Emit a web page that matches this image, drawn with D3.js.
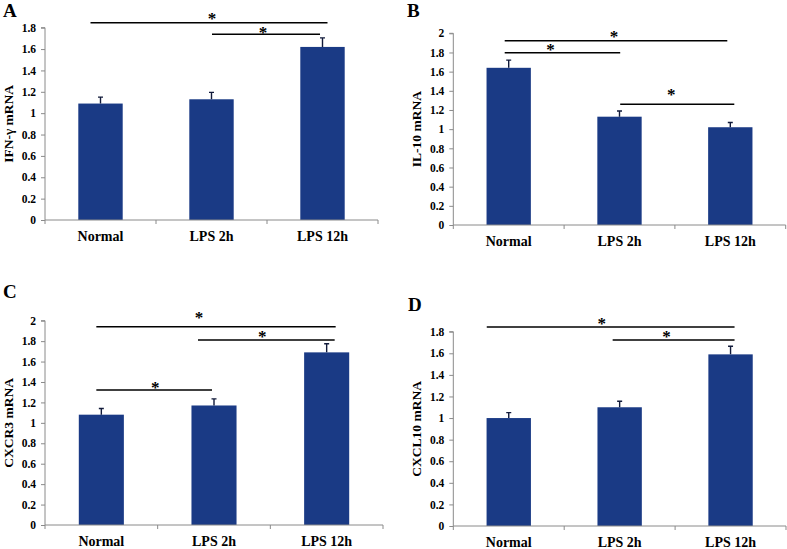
<!DOCTYPE html>
<html>
<head>
<meta charset="utf-8">
<script src="https://cdn.jsdelivr.net/npm/d3@7"></script>
<style>
  html, body { margin: 0; padding: 0; background: #fff; }
  svg { display: block; }
</style>
</head>
<body>
<svg id="chart" width="787" height="549"></svg>
<script>
// ---------------- DATA ----------------
const categories = ["Normal", "LPS 2h", "LPS 12h"];

const panelLetters = ["A", "B", "C", "D"];
const yLabels = ["IFN-\u03B3 mRNA", "IL-10 mRNA", "CXCR3 mRNA", "CXCL10 mRNA"];
const yMaxes = [1.8, 2, 2, 1.8];
const yTickStep = 0.2;

const ifnValues    = [1.09, 1.13, 1.62];
const ifnErrors    = [0.06, 0.065, 0.085];
const il10Values   = [1.64, 1.13, 1.02];
const il10Errors   = [0.08, 0.06, 0.05];
const cxcr3Values  = [1.08, 1.17, 1.69];
const cxcr3Errors  = [0.06, 0.065, 0.085];
const cxcl10Values = [1.00, 1.10, 1.59];
const cxcl10Errors = [0.05, 0.055, 0.075];

// significance brackets: [fromCategory, toCategory, level in data units]
const ifnSig    = [["Normal", "LPS 12h", 1.847], ["LPS 2h", "LPS 12h", 1.739]];
const il10Sig   = [["Normal", "LPS 12h", 1.923], ["Normal", "LPS 2h", 1.798], ["LPS 2h", "LPS 12h", 1.259]];
const cxcr3Sig  = [["Normal", "LPS 12h", 1.941], ["LPS 2h", "LPS 12h", 1.811], ["Normal", "LPS 2h", 1.322]];
const cxcl10Sig = [["Normal", "LPS 12h", 1.844], ["LPS 2h", "LPS 12h", 1.724]];

const seriesValues = [ifnValues, il10Values, cxcr3Values, cxcl10Values];
const seriesErrors = [ifnErrors, il10Errors, cxcr3Errors, cxcl10Errors];
const seriesSig = [ifnSig, il10Sig, cxcr3Sig, cxcl10Sig];

// ---------------- LAYOUT ----------------
const FONT = "'Liberation Serif', 'Times New Roman', 'DejaVu Serif', serif";
const frames = [
  { x0: 45,    x1: 378,   yBase: 220, yTop: 27.7,  letterX: 3,   letterY: 17 },
  { x0: 453.3, x1: 785.7, yBase: 225, yTop: 33.3,  letterX: 407, letterY: 17 },
  { x0: 45,    x1: 383,   yBase: 525, yTop: 320.7, letterX: 3,   letterY: 298 },
  { x0: 453.3, x1: 786,   yBase: 526, yTop: 331.7, letterX: 408, letterY: 311 }
];
// per-bracket nudges: [start dx, end dx, star dx from midpoint, star center above line]
const bracketNudges = [
  [[-10, 5, 3, 7], [0.5, -2.5, -3, 4.5]],
  [[-4, -3, -2, 6.7], [-4, 0.7, -12, 5.7], [0.7, 4, -6, 12]],
  [[-5, 9, -17, 11.7], [-16, 8, -4, 6.3], [-5, -2, 1, 5]],
  [[-22, 4, -9, 6.3], [-7, 4, -7, 6]]
];

const barColor = "#1a3a85";
const axisColor = "#8a8a8a";

const svg = d3.select("#chart");

function styleText(sel, size) {
  return sel.attr("font-family", null)
    .style("font-family", FONT)
    .style("font-weight", "700")
    .style("font-size", size + "px")
    .attr("fill", "#000");
}

frames.forEach((f, i) => {
  const g = svg.append("g");
  const x = d3.scaleBand().domain(categories).range([f.x0, f.x1]).paddingInner(0).paddingOuter(0);
  const y = d3.scaleLinear().domain([0, yMaxes[i]]).range([f.yBase, f.yTop]);
  const barW = x.bandwidth() * 0.4;
  const values = seriesValues[i], errors = seriesErrors[i];
  const rows = categories.map((c, k) => ({ c, v: values[k], e: errors[k] }));

  // bars
  g.selectAll("rect.bar").data(rows).enter().append("rect")
    .attr("x", d => x(d.c) + x.bandwidth() / 2 - barW / 2)
    .attr("y", d => y(d.v))
    .attr("width", barW)
    .attr("height", d => y(0) - y(d.v))
    .attr("fill", barColor);

  // error bars (upper only)
  g.selectAll("path.err").data(rows).enter().append("path")
    .attr("d", d => {
      const cx = x(d.c) + x.bandwidth() / 2;
      const yt = y(d.v + d.e);
      return `M${cx},${y(d.v)}V${yt}M${cx - 2.5},${yt}H${cx + 2.5}`;
    })
    .attr("stroke", "#111a3a").attr("stroke-width", 1.4).attr("fill", "none");

  // y axis
  const ticks = d3.range(0, yMaxes[i] + 1e-9, yTickStep);
  const yAxis = d3.axisLeft(y).tickValues(ticks).tickSize(4).tickPadding(5)
    .tickFormat(d => d3.format("~g")(+d.toFixed(1)));
  const ya = g.append("g").attr("transform", `translate(${f.x0},0)`).call(yAxis);
  ya.attr("font-family", null).attr("font-size", null);
  ya.select(".domain").attr("stroke", axisColor).attr("d", `M-4,${f.yTop}H0V${f.yBase}`);
  ya.selectAll(".tick line").attr("stroke", axisColor);
  styleText(ya.selectAll(".tick text"), 11.5);

  // x axis
  const xa = g.append("g").attr("transform", `translate(0,${f.yBase})`);
  xa.append("line").attr("x1", f.x0).attr("x2", f.x1).attr("stroke", axisColor);
  const bounds = categories.map(c => x(c)).concat([f.x1]);
  xa.selectAll("line.xt").data(bounds).enter().append("line")
    .attr("x1", d => d).attr("x2", d => d).attr("y1", 0).attr("y2", 4).attr("stroke", axisColor);
  styleText(xa.selectAll("text.cat").data(categories).enter().append("text")
    .attr("x", c => x(c) + x.bandwidth() / 2).attr("y", 21)
    .attr("text-anchor", "middle").text(c => c), 14);

  // y label
  styleText(g.append("text")
    .attr("transform", `translate(${f.x0 - 32},${(f.yBase + f.yTop) / 2}) rotate(-90)`)
    .attr("text-anchor", "middle").text(yLabels[i]), 13.5);

  // panel letter
  styleText(g.append("text").attr("x", f.letterX).attr("y", f.letterY)
    .text(panelLetters[i]), 19);

  // significance brackets
  seriesSig[i].forEach((s, k) => {
    const n = bracketNudges[i][k];
    const xs = x(s[0]) + x.bandwidth() / 2 + n[0];
    const xe = x(s[1]) + x.bandwidth() / 2 + n[1];
    const ly = y(s[2]);
    g.append("line").attr("x1", xs).attr("x2", xe).attr("y1", ly).attr("y2", ly)
      .attr("stroke", "#000").attr("stroke-width", 1.5);
    styleText(g.append("text").attr("x", (xs + xe) / 2 + n[2]).attr("y", ly - n[3] + 8)
      .attr("text-anchor", "middle").text("*"), 17);
  });
});
</script>
</body>
</html>
